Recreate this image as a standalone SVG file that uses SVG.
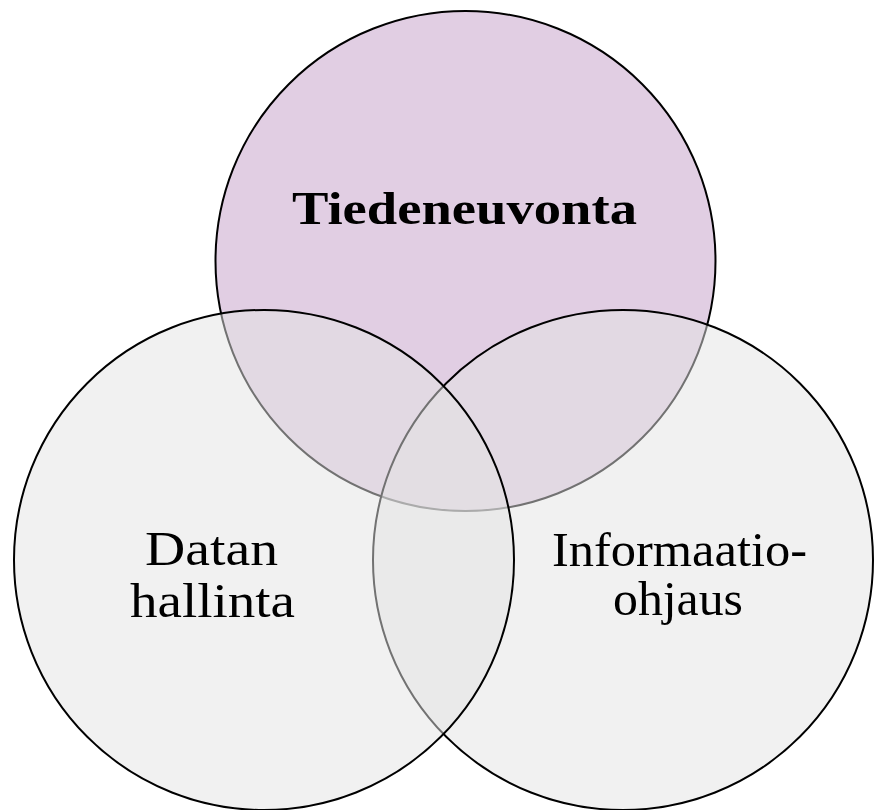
<svg xmlns="http://www.w3.org/2000/svg" width="874" height="810" viewBox="0 0 874 810">
  <style>
    .ring { stroke: #000000; stroke-width: 2; }
    .top { fill: #E1CEE3; }
    .low { fill: #E4E4E4; fill-opacity: 0.5; }
    .lbl { font-family: "Liberation Serif", "DejaVu Serif", serif; font-size: 48px; fill: #000000; text-anchor: middle; }
    .bold { font-weight: bold; font-size: 47px; }
  </style>
  <rect x="0" y="0" width="874" height="810" fill="#FFFFFF"/>
  <g id="node-tiedeneuvonta">
    <circle class="ring top" cx="465.5" cy="261" r="250"/>
    <text class="lbl bold" x="464.5" y="224" textLength="345" lengthAdjust="spacingAndGlyphs">Tiedeneuvonta</text>
  </g>
  <g id="node-informaatio-ohjaus">
    <circle class="ring low" cx="623" cy="560" r="250"/>
    <text class="lbl" x="679.5" y="566" textLength="255" lengthAdjust="spacingAndGlyphs">Informaatio-</text>
    <text class="lbl" x="678" y="615" textLength="130" lengthAdjust="spacingAndGlyphs">ohjaus</text>
  </g>
  <g id="node-datan-hallinta">
    <circle class="ring low" cx="264" cy="560" r="250"/>
    <text class="lbl" x="211.5" y="565" textLength="133" lengthAdjust="spacingAndGlyphs">Datan</text>
    <text class="lbl" x="212.5" y="617" textLength="165" lengthAdjust="spacingAndGlyphs">hallinta</text>
  </g>
  <g id="connectors"></g>
</svg>
